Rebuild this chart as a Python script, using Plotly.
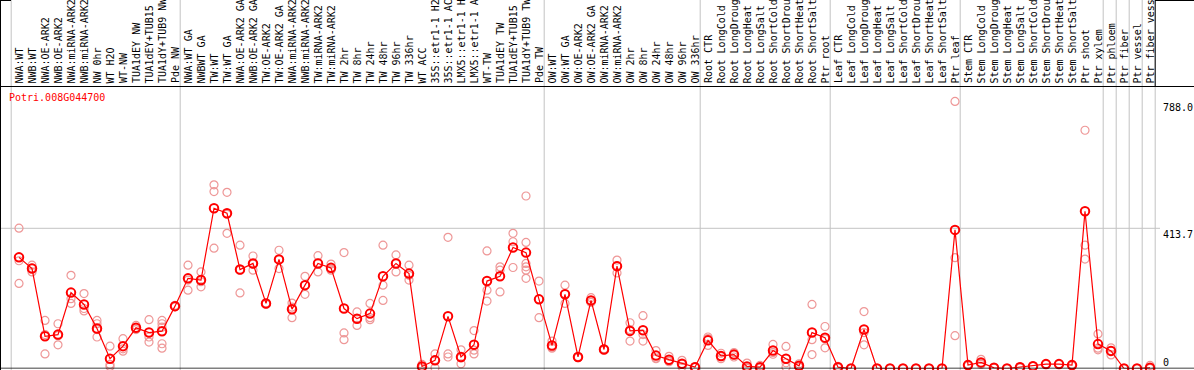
import plotly.graph_objects as go

gene = "Potri.008G044700"

labels = [
    "NWA:WT", "NWB:WT", "NWA:OE-ARK2", "NWB:OE-ARK2", "NWA:miRNA-ARK2", "NWB:miRNA-ARK2",
    "NW 0hr", "WT H2O", "WT-NW", "TUA1dEY NW", "TUA1dEY+TUB15 ", "TUA1dY+TUB9 NW", "Pde NW",
    "NWA:WT GA", "NWBWT GA", "TW:WT", "TW:WT GA", "NWA:OE-ARK2 GA", "NWB:OE-ARK2 GA",
    "TW:OE-ARK2", "TW:OE-ARK2 GA", "NWA:miRNA-ARK2", "NWB:miRNA-ARK2", "TW:miRNA-ARK2",
    "TW:miRNA-ARK2", "TW 2hr", "TW 8hr", "TW 24hr", "TW 48hr", "TW 96hr", "TW 336hr",
    "WT ACC", "35S::etr1-1 H2", "35S::etr1-1 AC", "LMX5::etr1-1 H", "LMX5::etr1-1 A",
    "WT-TW", "TUA1dEY TW", "TUA1dEY+TUB15 ", "TUA1dY+TUB9 TW", "Pde TW",
    "OW:WT", "OW:WT GA", "OW:OE-ARK2", "OW:OE-ARK2 GA", "OW:miRNA-ARK2", "OW:miRNA-ARK2",
    "OW 2hr", "OW 8hr", "OW 24hr", "OW 48hr", "OW 96hr", "OW 336hr",
    "Root CTR", "Root LongCold", "Root LongDroug", "Root LongHeat", "Root LongSalt",
    "Root ShortCold", "Root ShortDrou", "Root ShortHeat", "Root ShortSalt", "Ptr root",
    "Leaf CTR", "Leaf LongCold", "Leaf LongDroug", "Leaf LongHeat", "Leaf LongSalt",
    "Leaf ShortCold", "Leaf ShortDrou", "Leaf ShortHeat", "Leaf ShortSalt", "Ptr leaf",
    "Stem CTR", "Stem LongCold", "Stem LongDroug", "Stem LongHeat", "Stem LongSalt",
    "Stem ShortCold", "Stem ShortDrou", "Stem ShortHeat", "Stem ShortSalt", "Ptr shoot",
    "Ptr xylem", "Ptr phloem", "Ptr fiber", "Ptr vessel", "Ptr fiber vess",
]

# sizes of the sample groups separated by grey lines
group_sizes = [13, 28, 12, 10, 10, 11, 1, 1, 1, 1]

means = [
    328, 295, 95, 100, 224, 189, 118, 29, 66, 120, 106, 110, 184,
    266, 261, 473, 458, 292, 310, 192, 322, 175, 246, 310, 297, 177, 147, 162, 272, 310,
    280, 6, 24, 154, 34, 70, 258, 272, 357, 342, 204,
    68, 219, 34, 201, 56, 302, 111, 113, 38, 26, 14, 4,
    83, 37, 41, 6, 4, 53, 29, 8, 106, 91,
    4, 0, 115, 0, 0, 0, 0, 0, 0, 409,
    10, 18, 2, 0, 4, 7, 13, 13, 10, 464, 72,
    52, 0, 0, 2,
]

replicates = [
    [414, 318, 251], [305, 296, 285], [142, 100, 43], [132, 97, 70], [275, 206, 192],
    [221, 177, 170], [142, 132, 115, 93], [66, 12, 6], [88, 58, 51], [127, 120, 115],
    [144, 93, 78], [142, 132, 122, 73, 60], [186, 184, 182],
    [305, 261, 231], [285, 256, 241], [542, 522, 355], [520, 455, 399], [364, 290, 223],
    [332, 308, 290], [193, 191, 190], [349, 321, 295], [193, 181, 150], [272, 246, 219],
    [333, 312, 285], [308, 293, 290], [342, 105, 85], [167, 147, 127], [192, 150, 144],
    [364, 246, 201], [335, 310, 285], [305, 275, 261], [12, 4, 2], [43, 26, 2],
    [387, 43, 34], [55, 31, 14], [112, 54, 43], [347, 231, 199], [300, 290, 226],
    [399, 374, 298], [509, 372, 310, 300, 290, 266], [258, 205, 150],
    [81, 63, 60], [246, 220, 192], [35, 33, 32], [209, 200, 195], [58, 56, 55],
    [320, 304, 282], [135, 115, 81], [156, 100, 81], [53, 31, 29], [36, 22, 20],
    [24, 13, 5], [5, 4, 3],
    [93, 88, 68], [45, 35, 29], [47, 40, 34], [16, 1, 1], [9, 2, 1], [71, 47, 42],
    [65, 17, 4], [14, 6, 4], [189, 85, 41], [124, 87, 61],
    [6, 4, 2], [0, 0, 0], [168, 106, 70], [0, 0, 0], [0, 0, 0], [0, 0, 0], [0, 0, 0],
    [0, 0, 0], [0, 0, 0], [788, 327, 97],
    [12, 10, 8], [27, 16, 12], [3, 2, 1], [0, 0, 0], [5, 3, 2], [8, 7, 6], [14, 13, 12],
    [14, 13, 12], [12, 10, 8], [703, 364, 323], [102, 60, 55],
    [61, 53, 40], [0, 0, 0], [0, 0, 0], [9, 1, 0],
]

y_max = 788.0
y_ticks = [0, 413.7, 788.0]
y_tick_text = ["0", "413.7", "788.0"]

W, H = 1194, 370
FONT = "DejaVu Sans Mono"
GREY = "#c3c3c3"

xs = list(range(len(labels)))
y_top = y_max * 1.05


def px_x(v):
    return v / W


def px_y(v):
    return 1 - v / H


fig = go.Figure()

rx, ry = [], []
for i, reps in enumerate(replicates):
    for r in reps:
        rx.append(xs[i])
        ry.append(r)

fig.add_trace(go.Scatter(
    x=rx, y=ry, mode="markers", cliponaxis=False, hoverinfo="skip",
    marker=dict(symbol="circle-open", size=8, color="#ee9797", line=dict(width=1.2, color="#ee9797")),
))
fig.add_trace(go.Scatter(
    x=xs, y=means, mode="lines+markers", cliponaxis=False,
    line=dict(color="#ff0000", width=1.2),
    marker=dict(symbol="circle-open", size=8.5, color="#ff0000", line=dict(width=2, color="#ff0000")),
))

shapes = []
# group separators
bounds = [-0.6]
acc = 0
for g in group_sizes:
    acc += g
    bounds.append(acc - 1 + 0.4)
for b in bounds:
    shapes.append(dict(type="line", xref="x", yref="paper", x0=b, x1=b, y0=0, y1=1,
                       line=dict(color=GREY, width=1), layer="below"))
# black segment of last separator in header
shapes.append(dict(type="line", xref="x", yref="paper", x0=bounds[-1], x1=bounds[-1],
                   y0=px_y(86.5), y1=1, line=dict(color="black", width=1)))
# horizontal mid gridline
shapes.append(dict(type="line", xref="paper", yref="y", x0=0, x1=px_x(1160), y0=y_ticks[1], y1=y_ticks[1],
                   line=dict(color=GREY, width=1), layer="below"))
# black frame lines
shapes.append(dict(type="line", xref="paper", yref="paper", x0=px_x(0.5), x1=px_x(0.5), y0=0, y1=1,
                   line=dict(color="black", width=1)))
shapes.append(dict(type="line", xref="paper", yref="paper", x0=0, x1=1, y0=px_y(86.5), y1=px_y(86.5),
                   line=dict(color="black", width=1)))
shapes.append(dict(type="line", xref="paper", yref="y", x0=0, x1=1, y0=0, y1=0,
                   line=dict(color="black", width=1.5)))
shapes.append(dict(type="line", xref="paper", yref="paper", x0=0, x1=px_x(11), y0=px_y(0.5), y1=px_y(0.5),
                   line=dict(color="black", width=1)))
shapes.append(dict(type="line", xref="paper", yref="paper", x0=px_x(1155), x1=1, y0=px_y(0.5), y1=px_y(0.5),
                   line=dict(color="black", width=1)))

annotations = []
for i, lab in enumerate(labels):
    annotations.append(dict(
        x=xs[i], xref="x", y=px_y(84.5), yref="paper", text=lab.replace(" ", "&nbsp;"),
        textangle=-90, xanchor="center", yanchor="bottom", showarrow=False, borderpad=0,
        font=dict(family=FONT, size=10, color="black"),
    ))
annotations.append(dict(
    x=px_x(8), xref="paper", y=px_y(91), yref="paper", text=gene, xanchor="left", yanchor="top",
    showarrow=False, borderpad=0, font=dict(family=FONT, size=10, color="#ff0000"),
))
anchors = ["bottom", "top", "top"]
for v, t, a in zip(y_ticks, y_tick_text, anchors):
    annotations.append(dict(
        x=px_x(1162), xref="paper", y=v, yref="y", text=t, xanchor="left", yanchor=a,
        showarrow=False, borderpad=0, font=dict(family=FONT, size=10, color="black"),
    ))

fig.update_layout(
    width=W, height=H, margin=dict(l=0, r=0, t=0, b=0),
    paper_bgcolor="white", plot_bgcolor="white", showlegend=False,
    xaxis=dict(range=[-19 / 13, (W - 19) / 13], domain=[0, 1], visible=False, fixedrange=True),
    yaxis=dict(range=[0, y_top], domain=[px_y(368.5), px_y(88.1)], visible=False, fixedrange=True),
    shapes=shapes, annotations=annotations,
)

fig.write_html(
    "out.html",
    config={"displayModeBar": False},
    post_script="document.body.style.margin='0';document.body.style.padding='0';document.body.style.overflow='hidden';",
)
